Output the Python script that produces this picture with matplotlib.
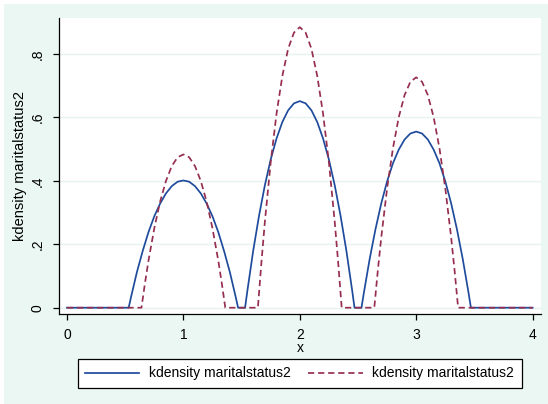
import matplotlib
matplotlib.use("Agg")
import matplotlib.pyplot as plt
from matplotlib.patches import Rectangle

# kdensity curves (first series, solid)
blue_x = [0.00,
          0.53, 0.55, 0.60, 0.65, 0.70, 0.75, 0.80, 0.85, 0.90, 0.95, 1.00,
          1.05, 1.10, 1.15, 1.20, 1.25, 1.30, 1.35, 1.40, 1.45, 1.47,
          1.53, 1.55, 1.60, 1.65, 1.70, 1.75, 1.80, 1.85, 1.90, 1.95, 2.00,
          2.05, 2.10, 2.15, 2.20, 2.25, 2.30, 2.35, 2.40, 2.45, 2.47,
          2.53, 2.55, 2.60, 2.65, 2.70, 2.75, 2.80, 2.85, 2.90, 2.95, 3.00,
          3.05, 3.10, 3.15, 3.20, 3.25, 3.30, 3.35, 3.40, 3.45, 3.47,
          4.00]
blue_y = [0.000,
          0.000, 0.033, 0.111, 0.178, 0.238, 0.288, 0.328, 0.360, 0.383, 0.397, 0.401,
          0.397, 0.383, 0.360, 0.328, 0.288, 0.238, 0.178, 0.111, 0.033, 0.000,
          0.000, 0.054, 0.180, 0.290, 0.386, 0.467, 0.533, 0.585, 0.622, 0.644, 0.651,
          0.644, 0.622, 0.585, 0.533, 0.467, 0.386, 0.290, 0.180, 0.054, 0.000,
          0.000, 0.046, 0.153, 0.247, 0.329, 0.398, 0.455, 0.498, 0.530, 0.549, 0.555,
          0.549, 0.530, 0.498, 0.455, 0.398, 0.329, 0.247, 0.153, 0.046, 0.000,
          0.000]

# second series (dashed)
red_x = [0.00,
         0.64, 0.67, 0.70, 0.75, 0.80, 0.85, 0.90, 0.95, 1.00,
         1.05, 1.10, 1.15, 1.20, 1.25, 1.30, 1.33, 1.36,
         1.64, 1.67, 1.70, 1.75, 1.80, 1.85, 1.90, 1.95, 2.00,
         2.05, 2.10, 2.15, 2.20, 2.25, 2.30, 2.33, 2.36,
         2.64, 2.67, 2.70, 2.75, 2.80, 2.85, 2.90, 2.95, 3.00,
         3.05, 3.10, 3.15, 3.20, 3.25, 3.30, 3.33, 3.36,
         4.00]
red_y = [0.000,
         0.000, 0.077, 0.148, 0.250, 0.334, 0.399, 0.446, 0.474, 0.483,
         0.474, 0.446, 0.399, 0.334, 0.250, 0.148, 0.077, 0.000,
         0.000, 0.141, 0.271, 0.458, 0.611, 0.730, 0.816, 0.867, 0.884,
         0.867, 0.816, 0.730, 0.611, 0.458, 0.271, 0.141, 0.000,
         0.000, 0.116, 0.222, 0.376, 0.502, 0.600, 0.670, 0.712, 0.726,
         0.712, 0.670, 0.600, 0.502, 0.376, 0.222, 0.116, 0.000,
         0.000]

xticks = [0, 1, 2, 3, 4]
yticks = [0, 0.2, 0.4, 0.6, 0.8]
ytick_labels = ["0", ".2", ".4", ".6", ".8"]
series_label = "kdensity maritalstatus2"

plt.rcParams["font.family"] = ["Liberation Sans", "DejaVu Sans"]
plt.rcParams["font.size"] = 10

W, H = 548, 404
fig = plt.figure(figsize=(W / 100, H / 100), dpi=100)
fig.patch.set_facecolor("white")
bg = "#eaf7f2"
fig.patches.append(Rectangle((4 / W, 0), 1, (H - 4) / H, transform=fig.transFigure,
                             facecolor=bg, edgecolor="none", zorder=-10))

left, right, top, bottom = 58.7, 541, 18.3, 314.3
ax = fig.add_axes([left / W, (H - bottom) / H, (right - left) / W, (bottom - top) / H])
ax.set_facecolor("white")

ax.plot(blue_x, blue_y, color="#1f4b9c", lw=1.25, label=series_label,
        solid_joinstyle="round", zorder=3)
ax.plot(red_x, red_y, color="#962f4f", lw=1.25, dashes=(3.6, 2.2),
        label=series_label, zorder=3)

ax.set_xlim(-0.071, 4.072)
ax.set_ylim(-0.0208, 0.912)
ax.set_xticks(xticks)
ax.set_yticks(yticks)
ax.set_yticklabels(ytick_labels, rotation=90, va="center")
ax.grid(axis="y", color="#e6f3ef", lw=1.0, zorder=0)
ax.grid(axis="x", visible=False)

for s in ["top", "right"]:
    ax.spines[s].set_visible(False)
for s in ["left", "bottom"]:
    ax.spines[s].set_linewidth(0.9)
ax.tick_params(direction="out", length=4, width=0.9, pad=6)

ax.set_xlabel("x", labelpad=-1)
ax.set_ylabel(series_label, fontsize=10.5)
ax.yaxis.set_label_coords(-0.066, 0.5)

leg = fig.legend(loc="lower left", ncol=2, mode="expand",
                 bbox_to_anchor=(77.6 / W, (H - 388) / H, 444.2 / W, 28 / H),
                 fancybox=False, edgecolor="black", framealpha=1,
                 handlelength=3.9, handletextpad=0.7, borderpad=0.55,
                 borderaxespad=0, columnspacing=1.0)
leg.get_frame().set_linewidth(0.9)

fig.savefig("out.png", dpi=100, facecolor=fig.get_facecolor())
